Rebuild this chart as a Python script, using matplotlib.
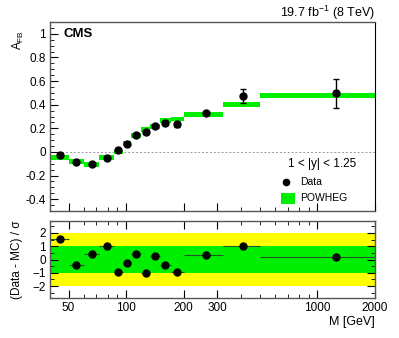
import numpy as np
import matplotlib
matplotlib.use("Agg")
import matplotlib.pyplot as plt
from matplotlib.ticker import FixedLocator, NullFormatter, MultipleLocator, FixedFormatter
from matplotlib.patches import Rectangle

plt.rcParams['font.family'] = ['Liberation Sans', 'DejaVu Sans']

# Mass bin edges (GeV)
bin_edges = [40, 50, 60, 72, 86, 96, 106, 120, 133, 150, 171, 200, 320, 500, 2000]
# Data A_FB
afb_data = [-0.025, -0.085, -0.10, -0.05, 0.013, 0.07, 0.145, 0.165, 0.22, 0.245, 0.235, 0.328, 0.473, 0.496]
afb_err = [0.01, 0.01, 0.01, 0.01, 0.01, 0.01, 0.01, 0.012, 0.012, 0.015, 0.02, 0.015, 0.06, 0.12]
# POWHEG prediction
afb_mc = [-0.045, -0.08, -0.107, -0.05, 0.0, 0.07, 0.14, 0.19, 0.215, 0.265, 0.28, 0.32, 0.40, 0.476]
mc_halfwidth = 0.02
# Pulls (Data - MC)/sigma
pulls = [1.55, -0.45, 0.4, 1.0, -0.95, -0.3, 0.4, -1.05, 0.28, -0.38, -0.93, 0.33, 1.05, 0.17]

xticks = [50, 100, 200, 300, 1000, 2000]
xticklabels = ["50", "100", "200", "300", "1000", "2000"]

edges = np.array(bin_edges, dtype=float)
lo, hi = edges[:-1], edges[1:]
centers_lin = 0.5 * (lo + hi)

W, H = 399, 338
fig = plt.figure(figsize=(W / 100, H / 100), dpi=100)
ax1 = fig.add_axes([50 / W, 1 - 211 / H, 325 / W, 189 / H])
ax2 = fig.add_axes([50 / W, 1 - 298 / H, 325 / W, 77 / H])

green = '#00ee00'
yellow = '#ffff00'
fs = 8.5

for ax in (ax1, ax2):
    ax.set_xscale('log')
    ax.set_xlim(40, 2000)
    for s in ax.spines.values():
        s.set_linewidth(1.0)
        s.set_color('#555555')
    ax.xaxis.set_major_locator(FixedLocator(xticks))
    minor = [m * d for d in (10, 100, 1000) for m in range(1, 10)]
    ax.xaxis.set_minor_locator(FixedLocator([v for v in minor if 40 <= v <= 2000 and v not in xticks]))
    ax.tick_params(which='both', direction='in', labelsize=fs, colors='black', pad=3)
    ax.tick_params(which='major', length=6)
    ax.tick_params(which='minor', length=3)

# Top panel
ax1.set_ylim(-0.5, 1.1)
for l, h, v in zip(lo, hi, afb_mc):
    ax1.add_patch(Rectangle((l, v - mc_halfwidth), h - l, 2 * mc_halfwidth,
                            facecolor=green, edgecolor='none', zorder=2))
ax1.axhline(0, color='#999999', lw=0.7, ls=(0, (2, 2)), zorder=1)
ax1.errorbar(centers_lin, afb_data, yerr=afb_err, fmt='o', color='black', ms=5,
             elinewidth=1.0, capsize=2, capthick=1.0, zorder=4)
ax1.yaxis.set_major_locator(FixedLocator([-0.4, -0.2, 0, 0.2, 0.4, 0.6, 0.8, 1.0]))
ax1.yaxis.set_major_formatter(FixedFormatter(["-0.4", "-0.2", "0", "0.2", "0.4", "0.6", "0.8", "1"]))
ax1.yaxis.set_minor_locator(MultipleLocator(0.05))
ax1.xaxis.set_major_formatter(NullFormatter())
ax1.xaxis.set_minor_formatter(NullFormatter())
ax1.tick_params(axis='x', which='both', bottom=True, top=False)
ax1.tick_params(axis='y', which='both', left=True, right=False)
ax1.spines['right'].set_color('black')
ax1.spines['right'].set_linewidth(0.8)

fig.text(18 / W, 1 - 40 / H, r'A$_{\mathregular{FB}}$', rotation=90, fontsize=fs,
         ha='center', va='center')
ax1.text((63 - 50) / 325, 1 - 12 / 189, 'CMS', transform=ax1.transAxes, fontsize=9.5,
         fontweight='bold', ha='left', va='center')
fig.text(375 / W, 1 - 13 / H, r'19.7 fb$^{\mathregular{-1}}$ (8 TeV)', fontsize=fs + 0.5,
         ha='right', va='center')
ax1.text((322 - 50) / 325, (211 - 164) / 189, '1 < |y| < 1.25', transform=ax1.transAxes,
         fontsize=fs, ha='center', va='center')
ax1.plot([(286 - 50) / 325], [(211 - 182) / 189], 'o', color='black', ms=4.5,
         transform=ax1.transAxes, clip_on=False)
ax1.text((300 - 50) / 325, (211 - 182) / 189, 'Data', transform=ax1.transAxes,
         fontsize=fs - 1, ha='left', va='center')
ax1.add_patch(Rectangle(((281 - 50) / 325, (211 - 204) / 189), 14 / 325, 11 / 189,
                        transform=ax1.transAxes, facecolor=green, edgecolor='none'))
ax1.text((300 - 50) / 325, (211 - 198) / 189, 'POWHEG', transform=ax1.transAxes,
         fontsize=fs - 1, ha='left', va='center')

# Bottom panel
ax2.set_ylim(-2.9, 2.9)
ax2.axhspan(-2, 2, color=yellow, zorder=0, lw=0)
ax2.axhspan(-1, 1, color=green, zorder=0.5, lw=0)
xerr = np.vstack([centers_lin - lo, hi - centers_lin])
ax2.errorbar(centers_lin, pulls, xerr=xerr, fmt='o', color='black', ms=5,
             elinewidth=0.8, ecolor='#225522', capsize=0, zorder=4)
ax2.yaxis.set_major_locator(FixedLocator([-2, -1, 0, 1, 2]))
ax2.yaxis.set_minor_locator(MultipleLocator(0.5))
ax2.xaxis.set_major_formatter(FixedFormatter(xticklabels))
ax2.xaxis.set_minor_formatter(NullFormatter())
ax2.tick_params(axis='both', which='both', top=True, right=True)
ax2.set_ylabel('(Data - MC) / σ', fontsize=fs, labelpad=7)
fig.text(375 / W, 1 - 322 / H, 'M [GeV]', fontsize=fs + 0.5, ha='right', va='center')

fig.savefig('out.png', dpi=100)
